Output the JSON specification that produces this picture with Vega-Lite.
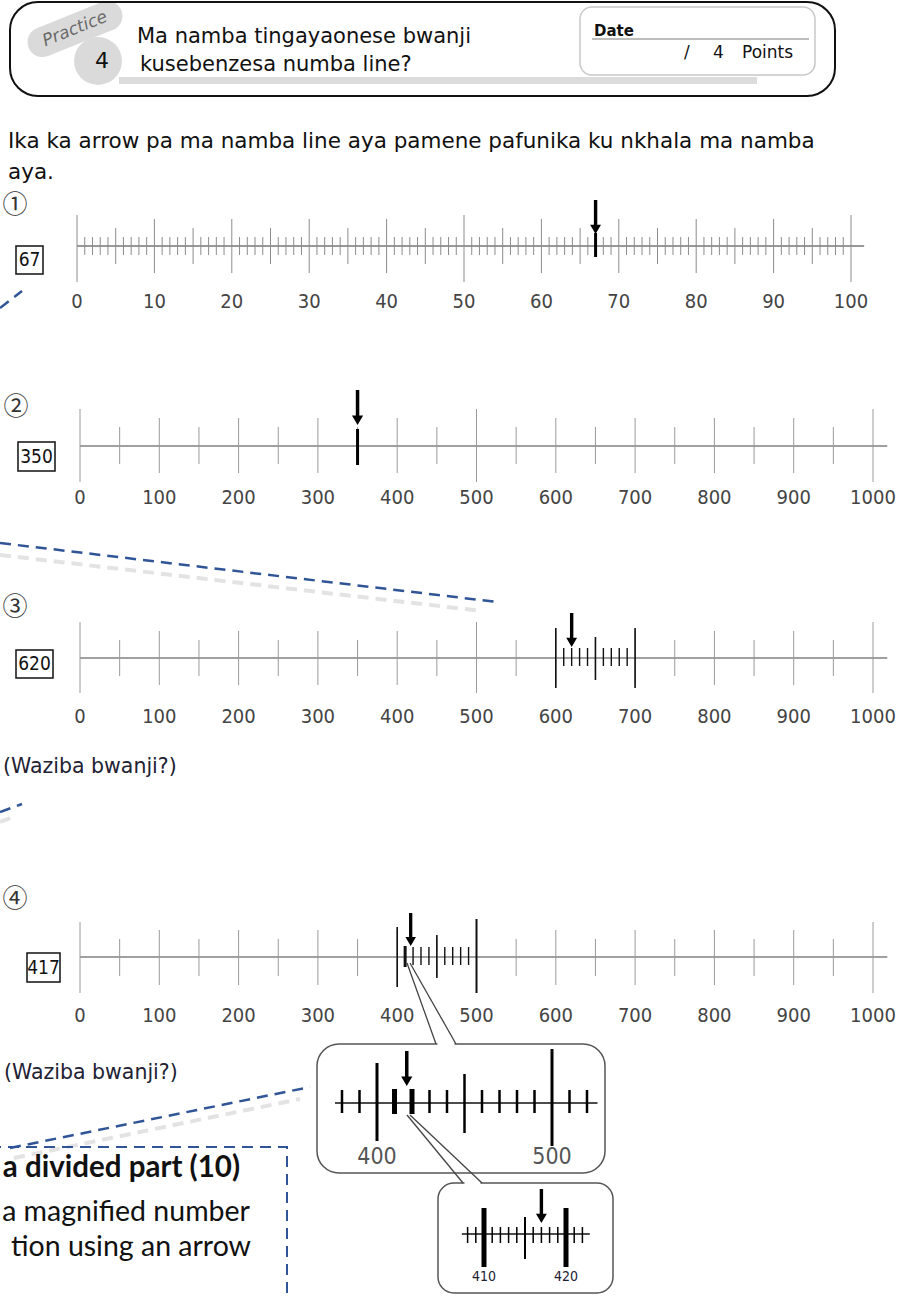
{
"$schema":"https://vega.github.io/schema/vega-lite/v6.json",
"width":899,"height":1299,"autosize":"none","padding":0,"background":"#ffffff",
"config":{"view":{"stroke":null}},
"resolve":{"scale":{"x":"independent"}},
"datasets":{
"blobs":[{"b":"pill","px":75,"py":29},{"b":"disc","px":98,"py":61}],
"rects":[
{"s":"hdr","x1":10,"x2":835,"y1":2,"y2":96},
{"s":"date","x1":580,"x2":815,"y1":7,"y2":75},
{"s":"band","x1":119,"x2":757,"y1":77,"y2":84},
{"s":"ans","x1":16,"x2":43,"y1":246,"y2":274},
{"s":"ans","x1":18,"x2":55,"y1":442,"y2":471},
{"s":"ans","x1":16,"x2":53,"y1":650,"y2":678},
{"s":"ans","x1":27,"x2":60,"y1":953,"y2":982},
{"s":"dash","x1":-10,"x2":287,"y1":1147,"y2":1330},
{"s":"box1","x1":317,"x2":605,"y1":1044,"y2":1173},
{"s":"box2","x1":438,"x2":613,"y1":1183,"y2":1293}
],
"segs":[
{"s":"uline","x1":592,"x2":809,"y1":39,"y2":39},
{"s":"wedge","x1":407,"y1":963,"x2":436,"y2":1044},
{"s":"wedge","x1":410,"y1":963,"x2":456,"y2":1044},
{"s":"gap","x1":437.5,"y1":1044,"x2":454.5,"y2":1044},
{"s":"wedge2","x1":407,"y1":1115,"x2":463,"y2":1183},
{"s":"wedge2","x1":410,"y1":1115,"x2":482,"y2":1183},
{"s":"gap2","x1":464.5,"y1":1183,"x2":480.5,"y2":1183},
{"s":"blue","x1":0,"y1":308,"x2":22,"y2":291},
{"s":"blue","x1":0,"y1":543,"x2":497,"y2":602},
{"s":"blue","x1":0,"y1":812,"x2":22,"y2":804},
{"s":"blue","x1":10,"y1":1148,"x2":310,"y2":1087},
{"s":"shadow","x1":0,"y1":555,"x2":482,"y2":611},
{"s":"shadow","x1":14,"y1":1158,"x2":300,"y2":1099},
{"s":"shadow","x1":0,"y1":822,"x2":16,"y2":816}
],
"texts":[
{"s":"head","t":"Ma namba tingayaonese bwanji","px":137,"py":37},
{"s":"head","t":"kusebenzesa numba line?","px":140,"py":65},
{"s":"instr","t":"Ika ka arrow pa ma namba line aya pamene pafunika ku nkhala ma namba","px":8,"py":142},
{"s":"instr","t":"aya.","px":8,"py":173},
{"s":"q","t":"(Waziba bwanji?)","px":3,"py":767},
{"s":"q","t":"(Waziba bwanji?)","px":4,"py":1073},
{"s":"circ","t":"①","px":15,"py":205},
{"s":"circ","t":"②","px":16,"py":407},
{"s":"circ","t":"③","px":15,"py":607},
{"s":"circ","t":"④","px":15,"py":899},
{"s":"datet","t":"Date","px":594,"py":31},
{"s":"pts","t":"/","px":684,"py":53},
{"s":"pts","t":"4","px":713,"py":53},
{"s":"pts","t":"Points","px":742,"py":53},
{"s":"prac","t":"Practice","px":75,"py":29},
{"s":"num4","t":"4","px":102,"py":61},
{"s":"boxb","t":"a divided part (10)","px":240,"py":1168},
{"s":"boxn","t":"a magnified number","px":250,"py":1212},
{"s":"boxn","t":"tion using an arrow","px":251,"py":1247},
{"s":"ans","t":"67","px":29.5,"py":260},
{"s":"ans","t":"350","px":36.5,"py":456.5},
{"s":"ans","t":"620","px":34.5,"py":664},
{"s":"ans","t":"417","px":43.5,"py":967.5}
],
"ans":[{"n":1,"a":67},{"n":2,"a":350},{"n":3,"a":620},{"n":4,"a":417}],
"axes":[{"n":"1","lo":0,"hi":101.7},{"n":"2","lo":0,"hi":1018},{"n":"b1","lo":376,"hi":526},{"n":"b2","lo":407.3,"hi":422.9}],
"t1":[
{"v":0,"k":"M"},{"v":1,"k":"o"},{"v":2,"k":"o"},{"v":3,"k":"o"},{"v":4,"k":"o"},{"v":5,"k":"f"},{"v":6,"k":"o"},{"v":7,"k":"o"},{"v":8,"k":"o"},{"v":9,"k":"o"},
{"v":10,"k":"t"},{"v":11,"k":"o"},{"v":12,"k":"o"},{"v":13,"k":"o"},{"v":14,"k":"o"},{"v":15,"k":"f"},{"v":16,"k":"o"},{"v":17,"k":"o"},{"v":18,"k":"o"},{"v":19,"k":"o"},
{"v":20,"k":"t"},{"v":21,"k":"o"},{"v":22,"k":"o"},{"v":23,"k":"o"},{"v":24,"k":"o"},{"v":25,"k":"f"},{"v":26,"k":"o"},{"v":27,"k":"o"},{"v":28,"k":"o"},{"v":29,"k":"o"},
{"v":30,"k":"t"},{"v":31,"k":"o"},{"v":32,"k":"o"},{"v":33,"k":"o"},{"v":34,"k":"o"},{"v":35,"k":"f"},{"v":36,"k":"o"},{"v":37,"k":"o"},{"v":38,"k":"o"},{"v":39,"k":"o"},
{"v":40,"k":"t"},{"v":41,"k":"o"},{"v":42,"k":"o"},{"v":43,"k":"o"},{"v":44,"k":"o"},{"v":45,"k":"f"},{"v":46,"k":"o"},{"v":47,"k":"o"},{"v":48,"k":"o"},{"v":49,"k":"o"},
{"v":50,"k":"M"},{"v":51,"k":"o"},{"v":52,"k":"o"},{"v":53,"k":"o"},{"v":54,"k":"o"},{"v":55,"k":"f"},{"v":56,"k":"o"},{"v":57,"k":"o"},{"v":58,"k":"o"},{"v":59,"k":"o"},
{"v":60,"k":"t"},{"v":61,"k":"o"},{"v":62,"k":"o"},{"v":63,"k":"o"},{"v":64,"k":"o"},{"v":65,"k":"f"},{"v":66,"k":"o"},{"v":67,"k":"o"},{"v":68,"k":"o"},{"v":69,"k":"o"},
{"v":70,"k":"t"},{"v":71,"k":"o"},{"v":72,"k":"o"},{"v":73,"k":"o"},{"v":74,"k":"o"},{"v":75,"k":"f"},{"v":76,"k":"o"},{"v":77,"k":"o"},{"v":78,"k":"o"},{"v":79,"k":"o"},
{"v":80,"k":"t"},{"v":81,"k":"o"},{"v":82,"k":"o"},{"v":83,"k":"o"},{"v":84,"k":"o"},{"v":85,"k":"f"},{"v":86,"k":"o"},{"v":87,"k":"o"},{"v":88,"k":"o"},{"v":89,"k":"o"},
{"v":90,"k":"t"},{"v":91,"k":"o"},{"v":92,"k":"o"},{"v":93,"k":"o"},{"v":94,"k":"o"},{"v":95,"k":"f"},{"v":96,"k":"o"},{"v":97,"k":"o"},{"v":98,"k":"o"},{"v":99,"k":"o"},
{"v":100,"k":"M"}
],
"t2":[
{"v":0,"k":"M"},{"v":50,"k":"f"},{"v":100,"k":"h"},{"v":150,"k":"f"},{"v":200,"k":"h"},{"v":250,"k":"f"},{"v":300,"k":"h"},{"v":350,"k":"f"},{"v":400,"k":"h"},{"v":450,"k":"f"},
{"v":500,"k":"M"},{"v":550,"k":"f"},{"v":600,"k":"h"},{"v":650,"k":"f"},{"v":700,"k":"h"},{"v":750,"k":"f"},{"v":800,"k":"h"},{"v":850,"k":"f"},{"v":900,"k":"h"},{"v":950,"k":"f"},
{"v":1000,"k":"M"}
],
"z3":[
{"v":600,"k":"A"},{"v":700,"k":"A"},{"v":650,"k":"B"},
{"v":610,"k":"C"},{"v":620,"k":"C"},{"v":630,"k":"C"},{"v":640,"k":"C"},{"v":660,"k":"C"},{"v":670,"k":"C"},{"v":680,"k":"C"},{"v":690,"k":"C"}
],
"z4":[
{"v":400,"k":"A"},{"v":500,"k":"L"},{"v":450,"k":"B"},{"v":410,"k":"D"},
{"v":420,"k":"C"},{"v":430,"k":"C"},{"v":440,"k":"C"},{"v":460,"k":"C"},{"v":470,"k":"C"},{"v":480,"k":"C"},{"v":490,"k":"C"}
],
"b1":[
{"v":400,"k":"A"},{"v":500,"k":"L"},{"v":450,"k":"B"},{"v":410,"k":"D"},{"v":420,"k":"D"},
{"v":380,"k":"C"},{"v":390,"k":"C"},{"v":430,"k":"C"},{"v":440,"k":"C"},{"v":460,"k":"C"},{"v":470,"k":"C"},{"v":480,"k":"C"},{"v":490,"k":"C"},{"v":510,"k":"C"},{"v":520,"k":"C"}
],
"b2":[
{"v":410,"k":"A"},{"v":420,"k":"A"},{"v":415,"k":"B"},
{"v":408,"k":"C"},{"v":409,"k":"C"},{"v":411,"k":"C"},{"v":412,"k":"C"},{"v":413,"k":"C"},{"v":414,"k":"C"},{"v":416,"k":"C"},{"v":417,"k":"C"},{"v":418,"k":"C"},{"v":419,"k":"C"},{"v":421,"k":"C"},{"v":422,"k":"C"}
]
},
"layer":[
{"data":{"name":"blobs"},"transform":[{"filter":"datum.b=='pill'"}],"mark":{"type":"point","shape":"M -0.7 -0.3 L 0.7 -0.3 A 0.3 0.3 0 0 1 0.7 0.3 L -0.7 0.3 A 0.3 0.3 0 0 1 -0.7 -0.3 Z","size":10000,"angle":-22,"filled":true,"fill":"#dadada","opacity":1,"strokeWidth":0},"encoding":{"x":{"field":"px","type":"quantitative","scale":{"domain":[0,899],"nice":false,"zero":false},"axis":null},"y":{"field":"py","type":"quantitative","scale":{"domain":[0,1299],"nice":false,"zero":false,"reverse":true},"axis":null}}},
{"data":{"name":"blobs"},"transform":[{"filter":"datum.b=='disc'"}],"mark":{"type":"point","shape":"circle","size":2290,"filled":true,"fill":"#dadada","opacity":1,"strokeWidth":0},"encoding":{"x":{"field":"px","type":"quantitative","scale":{"domain":[0,899],"nice":false,"zero":false},"axis":null},"y":{"field":"py","type":"quantitative","scale":{"domain":[0,1299],"nice":false,"zero":false,"reverse":true},"axis":null}}},
{"data":{"name":"rects"},"transform":[{"filter":"datum.s=='band'"}],"mark":{"type":"rect","fill":"#dcdcdc","strokeWidth":0},"encoding":{"x":{"field":"x1","type":"quantitative","scale":{"domain":[0,899],"nice":false,"zero":false},"axis":null},"x2":{"field":"x2"},"y":{"field":"y1","type":"quantitative","scale":{"domain":[0,1299],"nice":false,"zero":false,"reverse":true},"axis":null},"y2":{"field":"y2"}}},
{"data":{"name":"rects"},"transform":[{"filter":"datum.s=='hdr'"}],"mark":{"type":"rect","fill":"transparent","stroke":"#111111","strokeWidth":2,"cornerRadius":28},"encoding":{"x":{"field":"x1","type":"quantitative","scale":{"domain":[0,899],"nice":false,"zero":false},"axis":null},"x2":{"field":"x2"},"y":{"field":"y1","type":"quantitative","scale":{"domain":[0,1299],"nice":false,"zero":false,"reverse":true},"axis":null},"y2":{"field":"y2"}}},
{"data":{"name":"rects"},"transform":[{"filter":"datum.s=='date'"}],"mark":{"type":"rect","fill":"#ffffff","stroke":"#c8c8c8","strokeWidth":1.5,"cornerRadius":12},"encoding":{"x":{"field":"x1","type":"quantitative","scale":{"domain":[0,899],"nice":false,"zero":false},"axis":null},"x2":{"field":"x2"},"y":{"field":"y1","type":"quantitative","scale":{"domain":[0,1299],"nice":false,"zero":false,"reverse":true},"axis":null},"y2":{"field":"y2"}}},
{"data":{"name":"segs"},"transform":[{"filter":"datum.s=='uline'"}],"mark":{"type":"rule","color":"#bdbdbd","strokeWidth":2},"encoding":{"x":{"field":"x1","type":"quantitative","scale":{"domain":[0,899],"nice":false,"zero":false},"axis":null},"x2":{"field":"x2"},"y":{"field":"y1","type":"quantitative","scale":{"domain":[0,1299],"nice":false,"zero":false,"reverse":true},"axis":null},"y2":{"field":"y2"}}},
{"data":{"name":"texts"},"transform":[{"filter":"datum.s=='head'"}],"mark":{"type":"text","font":"DejaVu Sans","fontSize":21,"color":"#111111","align":"left","baseline":"middle"},"encoding":{"x":{"field":"px","type":"quantitative","scale":{"domain":[0,899],"nice":false,"zero":false},"axis":null},"y":{"field":"py","type":"quantitative","scale":{"domain":[0,1299],"nice":false,"zero":false,"reverse":true},"axis":null},"text":{"field":"t"}}},
{"data":{"name":"texts"},"transform":[{"filter":"datum.s=='instr'"}],"mark":{"type":"text","font":"DejaVu Sans","fontSize":21.5,"color":"#111111","align":"left","baseline":"middle"},"encoding":{"x":{"field":"px","type":"quantitative","scale":{"domain":[0,899],"nice":false,"zero":false},"axis":null},"y":{"field":"py","type":"quantitative","scale":{"domain":[0,1299],"nice":false,"zero":false,"reverse":true},"axis":null},"text":{"field":"t"}}},
{"data":{"name":"texts"},"transform":[{"filter":"datum.s=='q'"}],"mark":{"type":"text","font":"DejaVu Sans","fontSize":20.5,"color":"#222233","align":"left","baseline":"middle"},"encoding":{"x":{"field":"px","type":"quantitative","scale":{"domain":[0,899],"nice":false,"zero":false},"axis":null},"y":{"field":"py","type":"quantitative","scale":{"domain":[0,1299],"nice":false,"zero":false,"reverse":true},"axis":null},"text":{"field":"t"}}},
{"data":{"name":"texts"},"transform":[{"filter":"datum.s=='circ'"}],"mark":{"type":"text","font":"Noto Sans CJK JP","fontSize":25,"color":"#333333","align":"center","baseline":"middle"},"encoding":{"x":{"field":"px","type":"quantitative","scale":{"domain":[0,899],"nice":false,"zero":false},"axis":null},"y":{"field":"py","type":"quantitative","scale":{"domain":[0,1299],"nice":false,"zero":false,"reverse":true},"axis":null},"text":{"field":"t"}}},
{"data":{"name":"texts"},"transform":[{"filter":"datum.s=='datet'"}],"mark":{"type":"text","font":"DejaVu Sans","fontSize":15,"fontWeight":"bold","color":"#111111","align":"left","baseline":"middle"},"encoding":{"x":{"field":"px","type":"quantitative","scale":{"domain":[0,899],"nice":false,"zero":false},"axis":null},"y":{"field":"py","type":"quantitative","scale":{"domain":[0,1299],"nice":false,"zero":false,"reverse":true},"axis":null},"text":{"field":"t"}}},
{"data":{"name":"texts"},"transform":[{"filter":"datum.s=='pts'"}],"mark":{"type":"text","font":"DejaVu Sans","fontSize":17,"color":"#111111","align":"left","baseline":"middle"},"encoding":{"x":{"field":"px","type":"quantitative","scale":{"domain":[0,899],"nice":false,"zero":false},"axis":null},"y":{"field":"py","type":"quantitative","scale":{"domain":[0,1299],"nice":false,"zero":false,"reverse":true},"axis":null},"text":{"field":"t"}}},
{"data":{"name":"texts"},"transform":[{"filter":"datum.s=='prac'"}],"mark":{"type":"text","font":"DejaVu Sans","fontSize":17,"fontStyle":"italic","color":"#6a6a6a","align":"center","baseline":"middle","angle":-22},"encoding":{"x":{"field":"px","type":"quantitative","scale":{"domain":[0,899],"nice":false,"zero":false},"axis":null},"y":{"field":"py","type":"quantitative","scale":{"domain":[0,1299],"nice":false,"zero":false,"reverse":true},"axis":null},"text":{"field":"t"}}},
{"data":{"name":"texts"},"transform":[{"filter":"datum.s=='num4'"}],"mark":{"type":"text","font":"DejaVu Sans","fontSize":22,"color":"#111111","align":"center","baseline":"middle"},"encoding":{"x":{"field":"px","type":"quantitative","scale":{"domain":[0,899],"nice":false,"zero":false},"axis":null},"y":{"field":"py","type":"quantitative","scale":{"domain":[0,1299],"nice":false,"zero":false,"reverse":true},"axis":null},"text":{"field":"t"}}},
{"data":{"name":"rects"},"transform":[{"filter":"datum.s=='ans'"}],"mark":{"type":"rect","fill":"transparent","stroke":"#111111","strokeWidth":1.5},"encoding":{"x":{"field":"x1","type":"quantitative","scale":{"domain":[0,899],"nice":false,"zero":false},"axis":null},"x2":{"field":"x2"},"y":{"field":"y1","type":"quantitative","scale":{"domain":[0,1299],"nice":false,"zero":false,"reverse":true},"axis":null},"y2":{"field":"y2"}}},
{"data":{"name":"texts"},"transform":[{"filter":"datum.s=='ans'"}],"mark":{"type":"text","font":"DejaVu Sans Condensed","fontSize":19,"color":"#111111","align":"center","baseline":"middle"},"encoding":{"x":{"field":"px","type":"quantitative","scale":{"domain":[0,899],"nice":false,"zero":false},"axis":null},"y":{"field":"py","type":"quantitative","scale":{"domain":[0,1299],"nice":false,"zero":false,"reverse":true},"axis":null},"text":{"field":"t"}}},
{"data":{"name":"segs"},"transform":[{"filter":"datum.s=='shadow'"}],"mark":{"type":"rule","color":"#c0c0c0","strokeWidth":4,"strokeDash":[11,7],"opacity":0.45},"encoding":{"x":{"field":"x1","type":"quantitative","scale":{"domain":[0,899],"nice":false,"zero":false},"axis":null},"x2":{"field":"x2"},"y":{"field":"y1","type":"quantitative","scale":{"domain":[0,1299],"nice":false,"zero":false,"reverse":true},"axis":null},"y2":{"field":"y2"}}},
{"data":{"name":"segs"},"transform":[{"filter":"datum.s=='blue'"}],"mark":{"type":"rule","color":"#2f5597","strokeWidth":2.5,"strokeDash":[11,7]},"encoding":{"x":{"field":"x1","type":"quantitative","scale":{"domain":[0,899],"nice":false,"zero":false},"axis":null},"x2":{"field":"x2"},"y":{"field":"y1","type":"quantitative","scale":{"domain":[0,1299],"nice":false,"zero":false,"reverse":true},"axis":null},"y2":{"field":"y2"}}},
{"data":{"name":"rects"},"transform":[{"filter":"datum.s=='dash'"}],"mark":{"type":"rect","fill":"transparent","stroke":"#2f5597","strokeWidth":2,"strokeDash":[11,7]},"encoding":{"x":{"field":"x1","type":"quantitative","scale":{"domain":[0,899],"nice":false,"zero":false},"axis":null},"x2":{"field":"x2"},"y":{"field":"y1","type":"quantitative","scale":{"domain":[0,1299],"nice":false,"zero":false,"reverse":true},"axis":null},"y2":{"field":"y2"}}},
{"data":{"name":"texts"},"transform":[{"filter":"datum.s=='boxb'"}],"mark":{"type":"text","font":"Lato","fontSize":29.5,"fontWeight":"bold","color":"#111111","align":"right","baseline":"middle"},"encoding":{"x":{"field":"px","type":"quantitative","scale":{"domain":[0,899],"nice":false,"zero":false},"axis":null},"y":{"field":"py","type":"quantitative","scale":{"domain":[0,1299],"nice":false,"zero":false,"reverse":true},"axis":null},"text":{"field":"t"}}},
{"data":{"name":"texts"},"transform":[{"filter":"datum.s=='boxn'"}],"mark":{"type":"text","font":"Lato","fontSize":28.5,"color":"#111111","align":"right","baseline":"middle"},"encoding":{"x":{"field":"px","type":"quantitative","scale":{"domain":[0,899],"nice":false,"zero":false},"axis":null},"y":{"field":"py","type":"quantitative","scale":{"domain":[0,1299],"nice":false,"zero":false,"reverse":true},"axis":null},"text":{"field":"t"}}},

{"data":{"name":"axes"},"transform":[{"filter":"datum.n=='1'"}],"mark":{"type":"rule","color":"#777777","strokeWidth":1.5},"encoding":{"x":{"field":"lo","type":"quantitative","scale":{"domain":[0,100],"range":[77,851],"nice":false,"zero":false},"axis":null},"x2":{"field":"hi"},"y":{"datum":246,"type":"quantitative","scale":{"domain":[0,1299],"nice":false,"zero":false,"reverse":true},"axis":null}}},
{"data":{"name":"t1"},"transform":[{"filter":"datum.k=='M'"}],"mark":{"type":"rule","color":"#8c8c8c","strokeWidth":1},"encoding":{"x":{"field":"v","type":"quantitative","scale":{"domain":[0,100],"range":[77,851],"nice":false,"zero":false},"axis":null},"y":{"datum":215,"type":"quantitative","scale":{"domain":[0,1299],"nice":false,"zero":false,"reverse":true},"axis":null},"y2":{"datum":282}}},
{"data":{"name":"t1"},"transform":[{"filter":"datum.k=='t'"}],"mark":{"type":"rule","color":"#8c8c8c","strokeWidth":1},"encoding":{"x":{"field":"v","type":"quantitative","scale":{"domain":[0,100],"range":[77,851],"nice":false,"zero":false},"axis":null},"y":{"datum":219,"type":"quantitative","scale":{"domain":[0,1299],"nice":false,"zero":false,"reverse":true},"axis":null},"y2":{"datum":273}}},
{"data":{"name":"t1"},"transform":[{"filter":"datum.k=='f'"}],"mark":{"type":"rule","color":"#8c8c8c","strokeWidth":1},"encoding":{"x":{"field":"v","type":"quantitative","scale":{"domain":[0,100],"range":[77,851],"nice":false,"zero":false},"axis":null},"y":{"datum":228,"type":"quantitative","scale":{"domain":[0,1299],"nice":false,"zero":false,"reverse":true},"axis":null},"y2":{"datum":264}}},
{"data":{"name":"t1"},"transform":[{"filter":"datum.k=='o'"}],"mark":{"type":"rule","color":"#8c8c8c","strokeWidth":1},"encoding":{"x":{"field":"v","type":"quantitative","scale":{"domain":[0,100],"range":[77,851],"nice":false,"zero":false},"axis":null},"y":{"datum":237,"type":"quantitative","scale":{"domain":[0,1299],"nice":false,"zero":false,"reverse":true},"axis":null},"y2":{"datum":255}}},
{"data":{"name":"t1"},"transform":[{"filter":"datum.k=='M'||datum.k=='t'"}],"mark":{"type":"text","font":"DejaVu Sans Condensed","fontSize":20,"color":"#444444","align":"center","baseline":"middle"},"encoding":{"x":{"field":"v","type":"quantitative","scale":{"domain":[0,100],"range":[77,851],"nice":false,"zero":false},"axis":null},"y":{"datum":302,"type":"quantitative","scale":{"domain":[0,1299],"nice":false,"zero":false,"reverse":true},"axis":null},"text":{"field":"v","type":"nominal"}}},
{"data":{"name":"ans"},"transform":[{"filter":"datum.n==1"}],"mark":{"type":"rule","color":"#000000","strokeWidth":3},"encoding":{"x":{"field":"a","type":"quantitative","scale":{"domain":[0,100],"range":[77,851],"nice":false,"zero":false},"axis":null},"y":{"datum":233,"type":"quantitative","scale":{"domain":[0,1299],"nice":false,"zero":false,"reverse":true},"axis":null},"y2":{"datum":257}}},
{"data":{"name":"ans"},"transform":[{"filter":"datum.n==1"}],"mark":{"type":"point","shape":"M -0.1 -1 L 0.1 -1 L 0.1 0.45 L 0.32 0.45 L 0 1 L -0.32 0.45 L -0.1 0.45 Z","size":1156,"filled":true,"color":"#000000","opacity":1,"strokeWidth":0},"encoding":{"x":{"field":"a","type":"quantitative","scale":{"domain":[0,100],"range":[77,851],"nice":false,"zero":false},"axis":null},"y":{"datum":217,"type":"quantitative","scale":{"domain":[0,1299],"nice":false,"zero":false,"reverse":true},"axis":null}}},

{"data":{"name":"axes"},"transform":[{"filter":"datum.n=='2'"}],"mark":{"type":"rule","color":"#a0a0a0","strokeWidth":2},"encoding":{"x":{"field":"lo","type":"quantitative","scale":{"domain":[0,1000],"range":[80,873],"nice":false,"zero":false},"axis":null},"x2":{"field":"hi"},"y":{"datum":446,"type":"quantitative","scale":{"domain":[0,1299],"nice":false,"zero":false,"reverse":true},"axis":null}}},
{"data":{"name":"t2"},"transform":[{"filter":"datum.k=='M'"}],"mark":{"type":"rule","color":"#9a9a9a","strokeWidth":1},"encoding":{"x":{"field":"v","type":"quantitative","scale":{"domain":[0,1000],"range":[80,873],"nice":false,"zero":false},"axis":null},"y":{"datum":409,"type":"quantitative","scale":{"domain":[0,1299],"nice":false,"zero":false,"reverse":true},"axis":null},"y2":{"datum":482}}},
{"data":{"name":"t2"},"transform":[{"filter":"datum.k=='h'"}],"mark":{"type":"rule","color":"#9a9a9a","strokeWidth":1},"encoding":{"x":{"field":"v","type":"quantitative","scale":{"domain":[0,1000],"range":[80,873],"nice":false,"zero":false},"axis":null},"y":{"datum":418,"type":"quantitative","scale":{"domain":[0,1299],"nice":false,"zero":false,"reverse":true},"axis":null},"y2":{"datum":473}}},
{"data":{"name":"t2"},"transform":[{"filter":"datum.k=='f'"}],"mark":{"type":"rule","color":"#9a9a9a","strokeWidth":1},"encoding":{"x":{"field":"v","type":"quantitative","scale":{"domain":[0,1000],"range":[80,873],"nice":false,"zero":false},"axis":null},"y":{"datum":427,"type":"quantitative","scale":{"domain":[0,1299],"nice":false,"zero":false,"reverse":true},"axis":null},"y2":{"datum":464}}},
{"data":{"name":"t2"},"transform":[{"filter":"datum.k=='M'||datum.k=='h'"}],"mark":{"type":"text","font":"DejaVu Sans Condensed","fontSize":20,"color":"#444444","align":"center","baseline":"middle"},"encoding":{"x":{"field":"v","type":"quantitative","scale":{"domain":[0,1000],"range":[80,873],"nice":false,"zero":false},"axis":null},"y":{"datum":498,"type":"quantitative","scale":{"domain":[0,1299],"nice":false,"zero":false,"reverse":true},"axis":null},"text":{"field":"v","type":"nominal"}}},
{"data":{"name":"ans"},"transform":[{"filter":"datum.n==2"}],"mark":{"type":"rule","color":"#000000","strokeWidth":3},"encoding":{"x":{"field":"a","type":"quantitative","scale":{"domain":[0,1000],"range":[80,873],"nice":false,"zero":false},"axis":null},"y":{"datum":429,"type":"quantitative","scale":{"domain":[0,1299],"nice":false,"zero":false,"reverse":true},"axis":null},"y2":{"datum":465}}},
{"data":{"name":"ans"},"transform":[{"filter":"datum.n==2"}],"mark":{"type":"point","shape":"M -0.1 -1 L 0.1 -1 L 0.1 0.45 L 0.32 0.45 L 0 1 L -0.32 0.45 L -0.1 0.45 Z","size":1225,"filled":true,"color":"#000000","opacity":1,"strokeWidth":0},"encoding":{"x":{"field":"a","type":"quantitative","scale":{"domain":[0,1000],"range":[80,873],"nice":false,"zero":false},"axis":null},"y":{"datum":407.5,"type":"quantitative","scale":{"domain":[0,1299],"nice":false,"zero":false,"reverse":true},"axis":null}}},

{"data":{"name":"axes"},"transform":[{"filter":"datum.n=='2'"}],"mark":{"type":"rule","color":"#a0a0a0","strokeWidth":2},"encoding":{"x":{"field":"lo","type":"quantitative","scale":{"domain":[0,1000],"range":[80,873],"nice":false,"zero":false},"axis":null},"x2":{"field":"hi"},"y":{"datum":658,"type":"quantitative","scale":{"domain":[0,1299],"nice":false,"zero":false,"reverse":true},"axis":null}}},
{"data":{"name":"t2"},"transform":[{"filter":"datum.k=='M'"}],"mark":{"type":"rule","color":"#9a9a9a","strokeWidth":1},"encoding":{"x":{"field":"v","type":"quantitative","scale":{"domain":[0,1000],"range":[80,873],"nice":false,"zero":false},"axis":null},"y":{"datum":622,"type":"quantitative","scale":{"domain":[0,1299],"nice":false,"zero":false,"reverse":true},"axis":null},"y2":{"datum":693}}},
{"data":{"name":"t2"},"transform":[{"filter":"datum.k=='h'"}],"mark":{"type":"rule","color":"#9a9a9a","strokeWidth":1},"encoding":{"x":{"field":"v","type":"quantitative","scale":{"domain":[0,1000],"range":[80,873],"nice":false,"zero":false},"axis":null},"y":{"datum":631,"type":"quantitative","scale":{"domain":[0,1299],"nice":false,"zero":false,"reverse":true},"axis":null},"y2":{"datum":685}}},
{"data":{"name":"t2"},"transform":[{"filter":"datum.k=='f'"}],"mark":{"type":"rule","color":"#9a9a9a","strokeWidth":1},"encoding":{"x":{"field":"v","type":"quantitative","scale":{"domain":[0,1000],"range":[80,873],"nice":false,"zero":false},"axis":null},"y":{"datum":640,"type":"quantitative","scale":{"domain":[0,1299],"nice":false,"zero":false,"reverse":true},"axis":null},"y2":{"datum":676}}},
{"data":{"name":"z3"},"transform":[{"filter":"datum.k=='A'"}],"mark":{"type":"rule","color":"#111111","strokeWidth":1.6},"encoding":{"x":{"field":"v","type":"quantitative","scale":{"domain":[0,1000],"range":[80,873],"nice":false,"zero":false},"axis":null},"y":{"datum":628,"type":"quantitative","scale":{"domain":[0,1299],"nice":false,"zero":false,"reverse":true},"axis":null},"y2":{"datum":688}}},
{"data":{"name":"z3"},"transform":[{"filter":"datum.k=='B'"}],"mark":{"type":"rule","color":"#111111","strokeWidth":1.6},"encoding":{"x":{"field":"v","type":"quantitative","scale":{"domain":[0,1000],"range":[80,873],"nice":false,"zero":false},"axis":null},"y":{"datum":637,"type":"quantitative","scale":{"domain":[0,1299],"nice":false,"zero":false,"reverse":true},"axis":null},"y2":{"datum":680}}},
{"data":{"name":"z3"},"transform":[{"filter":"datum.k=='C'"}],"mark":{"type":"rule","color":"#111111","strokeWidth":1.4},"encoding":{"x":{"field":"v","type":"quantitative","scale":{"domain":[0,1000],"range":[80,873],"nice":false,"zero":false},"axis":null},"y":{"datum":648,"type":"quantitative","scale":{"domain":[0,1299],"nice":false,"zero":false,"reverse":true},"axis":null},"y2":{"datum":666}}},
{"data":{"name":"t2"},"transform":[{"filter":"datum.k=='M'||datum.k=='h'"}],"mark":{"type":"text","font":"DejaVu Sans Condensed","fontSize":20,"color":"#444444","align":"center","baseline":"middle"},"encoding":{"x":{"field":"v","type":"quantitative","scale":{"domain":[0,1000],"range":[80,873],"nice":false,"zero":false},"axis":null},"y":{"datum":717,"type":"quantitative","scale":{"domain":[0,1299],"nice":false,"zero":false,"reverse":true},"axis":null},"text":{"field":"v","type":"nominal"}}},
{"data":{"name":"ans"},"transform":[{"filter":"datum.n==3"}],"mark":{"type":"point","shape":"M -0.1 -1 L 0.1 -1 L 0.1 0.45 L 0.32 0.45 L 0 1 L -0.32 0.45 L -0.1 0.45 Z","size":1156,"filled":true,"color":"#000000","opacity":1,"strokeWidth":0},"encoding":{"x":{"field":"a","type":"quantitative","scale":{"domain":[0,1000],"range":[80,873],"nice":false,"zero":false},"axis":null},"y":{"datum":630,"type":"quantitative","scale":{"domain":[0,1299],"nice":false,"zero":false,"reverse":true},"axis":null}}},

{"data":{"name":"axes"},"transform":[{"filter":"datum.n=='2'"}],"mark":{"type":"rule","color":"#a0a0a0","strokeWidth":2},"encoding":{"x":{"field":"lo","type":"quantitative","scale":{"domain":[0,1000],"range":[80,873],"nice":false,"zero":false},"axis":null},"x2":{"field":"hi"},"y":{"datum":957,"type":"quantitative","scale":{"domain":[0,1299],"nice":false,"zero":false,"reverse":true},"axis":null}}},
{"data":{"name":"t2"},"transform":[{"filter":"datum.k=='M'"}],"mark":{"type":"rule","color":"#9a9a9a","strokeWidth":1},"encoding":{"x":{"field":"v","type":"quantitative","scale":{"domain":[0,1000],"range":[80,873],"nice":false,"zero":false},"axis":null},"y":{"datum":922,"type":"quantitative","scale":{"domain":[0,1299],"nice":false,"zero":false,"reverse":true},"axis":null},"y2":{"datum":993}}},
{"data":{"name":"t2"},"transform":[{"filter":"datum.k=='h'"}],"mark":{"type":"rule","color":"#9a9a9a","strokeWidth":1},"encoding":{"x":{"field":"v","type":"quantitative","scale":{"domain":[0,1000],"range":[80,873],"nice":false,"zero":false},"axis":null},"y":{"datum":930,"type":"quantitative","scale":{"domain":[0,1299],"nice":false,"zero":false,"reverse":true},"axis":null},"y2":{"datum":985}}},
{"data":{"name":"t2"},"transform":[{"filter":"datum.k=='f'"}],"mark":{"type":"rule","color":"#9a9a9a","strokeWidth":1},"encoding":{"x":{"field":"v","type":"quantitative","scale":{"domain":[0,1000],"range":[80,873],"nice":false,"zero":false},"axis":null},"y":{"datum":939,"type":"quantitative","scale":{"domain":[0,1299],"nice":false,"zero":false,"reverse":true},"axis":null},"y2":{"datum":976}}},
{"data":{"name":"z4"},"transform":[{"filter":"datum.k=='A'"}],"mark":{"type":"rule","color":"#111111","strokeWidth":1.6},"encoding":{"x":{"field":"v","type":"quantitative","scale":{"domain":[0,1000],"range":[80,873],"nice":false,"zero":false},"axis":null},"y":{"datum":927,"type":"quantitative","scale":{"domain":[0,1299],"nice":false,"zero":false,"reverse":true},"axis":null},"y2":{"datum":987}}},
{"data":{"name":"z4"},"transform":[{"filter":"datum.k=='L'"}],"mark":{"type":"rule","color":"#111111","strokeWidth":2},"encoding":{"x":{"field":"v","type":"quantitative","scale":{"domain":[0,1000],"range":[80,873],"nice":false,"zero":false},"axis":null},"y":{"datum":919,"type":"quantitative","scale":{"domain":[0,1299],"nice":false,"zero":false,"reverse":true},"axis":null},"y2":{"datum":993}}},
{"data":{"name":"z4"},"transform":[{"filter":"datum.k=='B'"}],"mark":{"type":"rule","color":"#111111","strokeWidth":1.6},"encoding":{"x":{"field":"v","type":"quantitative","scale":{"domain":[0,1000],"range":[80,873],"nice":false,"zero":false},"axis":null},"y":{"datum":935,"type":"quantitative","scale":{"domain":[0,1299],"nice":false,"zero":false,"reverse":true},"axis":null},"y2":{"datum":978}}},
{"data":{"name":"z4"},"transform":[{"filter":"datum.k=='C'"}],"mark":{"type":"rule","color":"#111111","strokeWidth":1.4},"encoding":{"x":{"field":"v","type":"quantitative","scale":{"domain":[0,1000],"range":[80,873],"nice":false,"zero":false},"axis":null},"y":{"datum":947,"type":"quantitative","scale":{"domain":[0,1299],"nice":false,"zero":false,"reverse":true},"axis":null},"y2":{"datum":965}}},
{"data":{"name":"z4"},"transform":[{"filter":"datum.k=='D'"}],"mark":{"type":"rule","color":"#111111","strokeWidth":3},"encoding":{"x":{"field":"v","type":"quantitative","scale":{"domain":[0,1000],"range":[80,873],"nice":false,"zero":false},"axis":null},"y":{"datum":946,"type":"quantitative","scale":{"domain":[0,1299],"nice":false,"zero":false,"reverse":true},"axis":null},"y2":{"datum":967}}},
{"data":{"name":"t2"},"transform":[{"filter":"datum.k=='M'||datum.k=='h'"}],"mark":{"type":"text","font":"DejaVu Sans Condensed","fontSize":20,"color":"#444444","align":"center","baseline":"middle"},"encoding":{"x":{"field":"v","type":"quantitative","scale":{"domain":[0,1000],"range":[80,873],"nice":false,"zero":false},"axis":null},"y":{"datum":1016,"type":"quantitative","scale":{"domain":[0,1299],"nice":false,"zero":false,"reverse":true},"axis":null},"text":{"field":"v","type":"nominal"}}},
{"data":{"name":"ans"},"transform":[{"filter":"datum.n==4"}],"mark":{"type":"point","shape":"M -0.1 -1 L 0.1 -1 L 0.1 0.45 L 0.32 0.45 L 0 1 L -0.32 0.45 L -0.1 0.45 Z","size":1089,"filled":true,"color":"#000000","opacity":1,"strokeWidth":0},"encoding":{"x":{"field":"a","type":"quantitative","scale":{"domain":[0,1000],"range":[80,873],"nice":false,"zero":false},"axis":null},"y":{"datum":929.5,"type":"quantitative","scale":{"domain":[0,1299],"nice":false,"zero":false,"reverse":true},"axis":null}}},

{"data":{"name":"rects"},"transform":[{"filter":"datum.s=='box1'"}],"mark":{"type":"rect","fill":"#ffffff","stroke":"#555555","strokeWidth":1.5,"cornerRadius":22},"encoding":{"x":{"field":"x1","type":"quantitative","scale":{"domain":[0,899],"nice":false,"zero":false},"axis":null},"x2":{"field":"x2"},"y":{"field":"y1","type":"quantitative","scale":{"domain":[0,1299],"nice":false,"zero":false,"reverse":true},"axis":null},"y2":{"field":"y2"}}},
{"data":{"name":"segs"},"transform":[{"filter":"datum.s=='gap'"}],"mark":{"type":"rule","color":"#ffffff","strokeWidth":4},"encoding":{"x":{"field":"x1","type":"quantitative","scale":{"domain":[0,899],"nice":false,"zero":false},"axis":null},"x2":{"field":"x2"},"y":{"field":"y1","type":"quantitative","scale":{"domain":[0,1299],"nice":false,"zero":false,"reverse":true},"axis":null},"y2":{"field":"y2"}}},
{"data":{"name":"segs"},"transform":[{"filter":"datum.s=='wedge'"}],"mark":{"type":"rule","color":"#444444","strokeWidth":1.3},"encoding":{"x":{"field":"x1","type":"quantitative","scale":{"domain":[0,899],"nice":false,"zero":false},"axis":null},"x2":{"field":"x2"},"y":{"field":"y1","type":"quantitative","scale":{"domain":[0,1299],"nice":false,"zero":false,"reverse":true},"axis":null},"y2":{"field":"y2"}}},
{"data":{"name":"axes"},"transform":[{"filter":"datum.n=='b1'"}],"mark":{"type":"rule","color":"#111111","strokeWidth":1.5},"encoding":{"x":{"field":"lo","type":"quantitative","scale":{"domain":[400,500],"range":[377,552],"nice":false,"zero":false},"axis":null},"x2":{"field":"hi"},"y":{"datum":1103,"type":"quantitative","scale":{"domain":[0,1299],"nice":false,"zero":false,"reverse":true},"axis":null}}},
{"data":{"name":"b1"},"transform":[{"filter":"datum.k=='A'"}],"mark":{"type":"rule","color":"#000000","strokeWidth":3},"encoding":{"x":{"field":"v","type":"quantitative","scale":{"domain":[400,500],"range":[377,552],"nice":false,"zero":false},"axis":null},"y":{"datum":1063,"type":"quantitative","scale":{"domain":[0,1299],"nice":false,"zero":false,"reverse":true},"axis":null},"y2":{"datum":1141}}},
{"data":{"name":"b1"},"transform":[{"filter":"datum.k=='L'"}],"mark":{"type":"rule","color":"#000000","strokeWidth":3},"encoding":{"x":{"field":"v","type":"quantitative","scale":{"domain":[400,500],"range":[377,552],"nice":false,"zero":false},"axis":null},"y":{"datum":1049,"type":"quantitative","scale":{"domain":[0,1299],"nice":false,"zero":false,"reverse":true},"axis":null},"y2":{"datum":1146}}},
{"data":{"name":"b1"},"transform":[{"filter":"datum.k=='B'"}],"mark":{"type":"rule","color":"#000000","strokeWidth":2.5},"encoding":{"x":{"field":"v","type":"quantitative","scale":{"domain":[400,500],"range":[377,552],"nice":false,"zero":false},"axis":null},"y":{"datum":1074,"type":"quantitative","scale":{"domain":[0,1299],"nice":false,"zero":false,"reverse":true},"axis":null},"y2":{"datum":1133}}},
{"data":{"name":"b1"},"transform":[{"filter":"datum.k=='C'"}],"mark":{"type":"rule","color":"#000000","strokeWidth":2.5},"encoding":{"x":{"field":"v","type":"quantitative","scale":{"domain":[400,500],"range":[377,552],"nice":false,"zero":false},"axis":null},"y":{"datum":1090,"type":"quantitative","scale":{"domain":[0,1299],"nice":false,"zero":false,"reverse":true},"axis":null},"y2":{"datum":1113}}},
{"data":{"name":"b1"},"transform":[{"filter":"datum.k=='D'"}],"mark":{"type":"rule","color":"#000000","strokeWidth":5},"encoding":{"x":{"field":"v","type":"quantitative","scale":{"domain":[400,500],"range":[377,552],"nice":false,"zero":false},"axis":null},"y":{"datum":1089,"type":"quantitative","scale":{"domain":[0,1299],"nice":false,"zero":false,"reverse":true},"axis":null},"y2":{"datum":1114}}},
{"data":{"name":"b1"},"transform":[{"filter":"datum.k=='A'||datum.k=='L'"}],"mark":{"type":"text","font":"DejaVu Sans Condensed","fontSize":23,"color":"#555555","align":"center","baseline":"middle"},"encoding":{"x":{"field":"v","type":"quantitative","scale":{"domain":[400,500],"range":[377,552],"nice":false,"zero":false},"axis":null},"y":{"datum":1157,"type":"quantitative","scale":{"domain":[0,1299],"nice":false,"zero":false,"reverse":true},"axis":null},"text":{"field":"v","type":"nominal"}}},
{"data":{"name":"ans"},"transform":[{"filter":"datum.n==4"}],"mark":{"type":"point","shape":"M -0.1 -1 L 0.1 -1 L 0.1 0.45 L 0.32 0.45 L 0 1 L -0.32 0.45 L -0.1 0.45 Z","size":1225,"filled":true,"color":"#000000","opacity":1,"strokeWidth":0},"encoding":{"x":{"field":"a","type":"quantitative","scale":{"domain":[400,500],"range":[377,552],"nice":false,"zero":false},"axis":null},"y":{"datum":1068.5,"type":"quantitative","scale":{"domain":[0,1299],"nice":false,"zero":false,"reverse":true},"axis":null}}},

{"data":{"name":"rects"},"transform":[{"filter":"datum.s=='box2'"}],"mark":{"type":"rect","fill":"#ffffff","stroke":"#555555","strokeWidth":1.5,"cornerRadius":16},"encoding":{"x":{"field":"x1","type":"quantitative","scale":{"domain":[0,899],"nice":false,"zero":false},"axis":null},"x2":{"field":"x2"},"y":{"field":"y1","type":"quantitative","scale":{"domain":[0,1299],"nice":false,"zero":false,"reverse":true},"axis":null},"y2":{"field":"y2"}}},
{"data":{"name":"segs"},"transform":[{"filter":"datum.s=='gap2'"}],"mark":{"type":"rule","color":"#ffffff","strokeWidth":4},"encoding":{"x":{"field":"x1","type":"quantitative","scale":{"domain":[0,899],"nice":false,"zero":false},"axis":null},"x2":{"field":"x2"},"y":{"field":"y1","type":"quantitative","scale":{"domain":[0,1299],"nice":false,"zero":false,"reverse":true},"axis":null},"y2":{"field":"y2"}}},
{"data":{"name":"segs"},"transform":[{"filter":"datum.s=='wedge2'"}],"mark":{"type":"rule","color":"#444444","strokeWidth":1.3},"encoding":{"x":{"field":"x1","type":"quantitative","scale":{"domain":[0,899],"nice":false,"zero":false},"axis":null},"x2":{"field":"x2"},"y":{"field":"y1","type":"quantitative","scale":{"domain":[0,1299],"nice":false,"zero":false,"reverse":true},"axis":null},"y2":{"field":"y2"}}},
{"data":{"name":"axes"},"transform":[{"filter":"datum.n=='b2'"}],"mark":{"type":"rule","color":"#111111","strokeWidth":1.5},"encoding":{"x":{"field":"lo","type":"quantitative","scale":{"domain":[410,420],"range":[484,566],"nice":false,"zero":false},"axis":null},"x2":{"field":"hi"},"y":{"datum":1234,"type":"quantitative","scale":{"domain":[0,1299],"nice":false,"zero":false,"reverse":true},"axis":null}}},
{"data":{"name":"b2"},"transform":[{"filter":"datum.k=='A'"}],"mark":{"type":"rule","color":"#000000","strokeWidth":5},"encoding":{"x":{"field":"v","type":"quantitative","scale":{"domain":[410,420],"range":[484,566],"nice":false,"zero":false},"axis":null},"y":{"datum":1208,"type":"quantitative","scale":{"domain":[0,1299],"nice":false,"zero":false,"reverse":true},"axis":null},"y2":{"datum":1267}}},
{"data":{"name":"b2"},"transform":[{"filter":"datum.k=='B'"}],"mark":{"type":"rule","color":"#000000","strokeWidth":2},"encoding":{"x":{"field":"v","type":"quantitative","scale":{"domain":[410,420],"range":[484,566],"nice":false,"zero":false},"axis":null},"y":{"datum":1217,"type":"quantitative","scale":{"domain":[0,1299],"nice":false,"zero":false,"reverse":true},"axis":null},"y2":{"datum":1259}}},
{"data":{"name":"b2"},"transform":[{"filter":"datum.k=='C'"}],"mark":{"type":"rule","color":"#000000","strokeWidth":1.5},"encoding":{"x":{"field":"v","type":"quantitative","scale":{"domain":[410,420],"range":[484,566],"nice":false,"zero":false},"axis":null},"y":{"datum":1227,"type":"quantitative","scale":{"domain":[0,1299],"nice":false,"zero":false,"reverse":true},"axis":null},"y2":{"datum":1243}}},
{"data":{"name":"b2"},"transform":[{"filter":"datum.k=='A'"}],"mark":{"type":"text","font":"DejaVu Sans Condensed","fontSize":14,"color":"#222233","align":"center","baseline":"middle"},"encoding":{"x":{"field":"v","type":"quantitative","scale":{"domain":[410,420],"range":[484,566],"nice":false,"zero":false},"axis":null},"y":{"datum":1277,"type":"quantitative","scale":{"domain":[0,1299],"nice":false,"zero":false,"reverse":true},"axis":null},"text":{"field":"v","type":"nominal"}}},
{"data":{"name":"ans"},"transform":[{"filter":"datum.n==4"}],"mark":{"type":"point","shape":"M -0.1 -1 L 0.1 -1 L 0.1 0.45 L 0.32 0.45 L 0 1 L -0.32 0.45 L -0.1 0.45 Z","size":1156,"filled":true,"color":"#000000","opacity":1,"strokeWidth":0},"encoding":{"x":{"field":"a","type":"quantitative","scale":{"domain":[410,420],"range":[484,566],"nice":false,"zero":false},"axis":null},"y":{"datum":1206,"type":"quantitative","scale":{"domain":[0,1299],"nice":false,"zero":false,"reverse":true},"axis":null}}}
]
}
